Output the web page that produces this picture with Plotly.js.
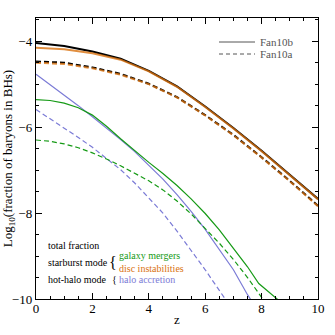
<!DOCTYPE html>
<html>
<head>
<meta charset="utf-8">
<script src="https://cdn.plot.ly/plotly-3.0.1.min.js"></script>
<style>
  html, body { margin: 0; padding: 0; background: #fff; }
  #chart { width: 335px; height: 335px; }
</style>
</head>
<body>
<div id="chart"></div>
<script>
// redshift grids
const zTotal = [0, 1, 2, 3, 4, 5, 6, 7, 8, 9, 10];
const zHalf = [0, 0.5, 1, 1.5, 2, 2.5, 3, 3.5, 4, 4.5, 5, 5.5, 6, 6.5, 7, 7.5, 8, 8.5];
const zMerg = [0, 0.5, 1, 1.5, 2, 2.5, 3, 3.5, 4, 4.5, 5, 5.5, 6, 6.5, 7, 7.5, 7.9, 8.5, 9];

// total fraction (Fan10b solid, Fan10a dashed)
const totalB = [-4.04, -4.11, -4.24, -4.41, -4.69, -5.05, -5.52, -6.02, -6.55, -7.10, -7.67];
const totalA = [-4.47, -4.50, -4.61, -4.76, -4.99, -5.30, -5.72, -6.18, -6.70, -7.25, -7.83];

// starburst mode: disc instabilities
const discB = [-4.15, -4.19, -4.28, -4.43, -4.70, -5.06, -5.53, -6.03, -6.56, -7.11, -7.68];
const discA = [-4.50, -4.53, -4.63, -4.78, -5.00, -5.31, -5.73, -6.19, -6.71, -7.26, -7.84];

// starburst mode: galaxy mergers
const mergB = [-5.36, -5.38, -5.44, -5.55, -5.72, -5.98, -6.27, -6.55, -6.82, -7.08, -7.36,
               -7.67, -8.01, -8.39, -8.81, -9.25, -9.64, -9.98, -10.25];
const mergA = [-6.30, -6.33, -6.39, -6.48, -6.60, -6.74, -6.90, -7.08, -7.25, -7.46, -7.72,
               -8.02, -8.35, -8.70, -9.08, -9.50, -9.96, -10.4];

// hot-halo mode: halo accretion
const haloB = [-4.77, -5.01, -5.25, -5.50, -5.76, -6.02, -6.29, -6.57, -6.88, -7.21, -7.57,
               -7.96, -8.38, -8.84, -9.32, -9.90, -10.4, -10.9];
const haloA = [-5.59, -5.80, -6.02, -6.24, -6.47, -6.72, -6.99, -7.30, -7.65, -8.00, -8.42,
               -8.86, -9.32, -9.80, -10.25, -10.7, -11.2, -11.7];

const serif = 'Liberation Serif, Times New Roman, serif';
const cBlack = '#000000';
const cOrange = '#d9720f';
const cGreen = '#159a15';
const cPurple = '#7b7bd6';
const dash = '5px,3px';

function line(x, y, color, width, dashed, opacity) {
  return {
    x: x, y: y, mode: 'lines', type: 'scatter', showlegend: false,
    hoverinfo: 'skip', opacity: opacity || 1,
    line: { color: color, width: width, dash: dashed ? dash : 'solid' }
  };
}

const traces = [
  line(zHalf, haloA, cPurple, 1.2, true),
  line(zHalf, haloB, cPurple, 1.2, false),
  line(zHalf, mergA, cGreen, 1.2, true),
  line(zMerg, mergB, cGreen, 1.2, false),
  line(zTotal, totalA, cBlack, 2, true),
  line(zTotal, discA, cOrange, 2, true, 0.8),
  line(zTotal, totalB, cBlack, 2, false),
  line(zTotal, discB, cOrange, 2, false, 0.8)
];

// pixel -> paper helpers for the decorations
function px(x) { return (x - 36) / 282; }
function py(y) { return (299 - y) / 281; }

function note(x, y, text, color, size, anchor) {
  return {
    xref: 'paper', yref: 'paper', x: px(x), y: py(y), text: text,
    showarrow: false, xanchor: anchor || 'left', yanchor: 'middle', borderpad: 0,
    font: { family: serif, size: size || 10, color: color }
  };
}

function key(y, dashed) {
  return {
    type: 'line', xref: 'paper', yref: 'paper',
    x0: px(219), x1: px(255), y0: py(y), y1: py(y),
    line: { color: '#555', width: 1, dash: dashed ? '4px,3px' : 'solid' }
  };
}

const axisCommon = {
  showgrid: false, zeroline: false, showline: true, linecolor: '#000', linewidth: 1.2,
  mirror: 'allticks', ticks: 'inside', ticklen: 6, tickwidth: 1, tickcolor: '#000',
  tickfont: { family: serif, size: 13, color: '#000' },
  minor: { dtick: 0.5, ticks: 'inside', ticklen: 3, tickwidth: 1, tickcolor: '#000' }
};

const layout = {
  width: 335, height: 335,
  margin: { l: 36, r: 17, t: 18, b: 36 },
  paper_bgcolor: '#fff', plot_bgcolor: '#fff',
  showlegend: false,
  xaxis: Object.assign({}, axisCommon, {
    range: [0, 10], dtick: 2, tick0: 0, ticklabelstandoff: -3,
    title: { text: 'z', font: { family: serif, size: 13, color: '#000' }, standoff: 0 }
  }),
  yaxis: Object.assign({}, axisCommon, {
    range: [-10, -3.46], dtick: 2, tick0: -10,
    title: { text: 'Log<sub>10</sub>(fraction of baryons in BHs)',
             font: { family: serif, size: 13, color: '#000' }, standoff: 6 }
  }),
  shapes: [key(42, false), key(54, true)],
  annotations: [
    note(259, 42, 'Fan10b', '#555', 11),
    note(259, 54, 'Fan10a', '#555', 11),
    note(47, 245, 'total fraction', '#000'),
    note(47, 262, 'starburst mode', '#000'),
    note(47, 279, 'hot-halo mode', '#000'),
    note(113, 262, '{', '#000', 16, 'center'),
    note(114, 279, '{', '#000', 10, 'center'),
    note(118, 256, 'galaxy mergers', cGreen),
    note(118, 268, 'disc instabilities', cOrange),
    note(118, 279, 'halo accretion', cPurple)
  ]
};

Plotly.newPlot('chart', traces, layout, { displayModeBar: false, staticPlot: true });
</script>
</body>
</html>
